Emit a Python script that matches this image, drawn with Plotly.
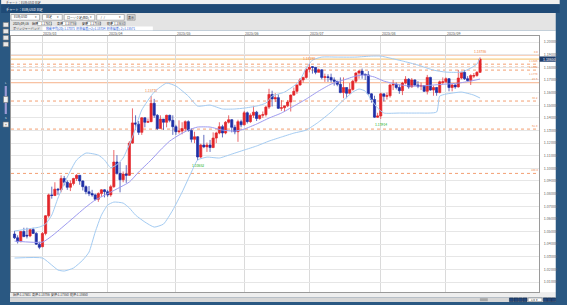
import plotly.graph_objects as go

# ---------------- data ----------------
feb = [18, 19, 20, 21, 24, 25, 26, 27, 28]
mar = [3, 4, 5, 6, 7, 10, 11, 12, 13, 14, 17, 18, 19, 20, 21, 24, 25, 26, 27, 28, 31]
apr = [1, 2, 3, 4, 7, 8, 9, 10, 11, 14, 15, 16, 17, 18, 21, 22, 23, 24, 25, 28, 29, 30]
may = [1, 2, 5, 6, 7, 8, 9, 12, 13, 14, 15, 16, 19, 20, 21, 22, 23, 26, 27, 28, 29, 30]
jun = [2, 3, 4, 5, 6, 9, 10, 11, 12, 13, 16, 17, 18, 19, 20, 23, 24, 25, 26, 27, 30]
jul = [1, 2, 3, 4, 7, 8, 9, 10, 11, 14, 15, 16, 17, 18, 21, 22, 23, 24, 25, 28, 29, 30, 31]
aug = [1, 4, 5, 6, 7, 8, 11, 12, 13, 14, 15, 18, 19, 20, 21, 22, 25, 26, 27, 28, 29]
sep = [1, 2, 3, 4, 5, 8, 9, 10, 11, 12, 15, 16]
dates = [f"2025-{m:02d}-{d:02d}" for m, days in
         ((2, feb), (3, mar), (4, apr), (5, may), (6, jun), (7, jul), (8, aug), (9, sep)) for d in days]

open_ = [
    1.0480, 1.0450, 1.0420, 1.0500, 1.0470, 1.0465, 1.0515, 1.0485, 1.0400,
    1.0380, 1.0485, 1.0625, 1.0790, 1.0785, 1.0835, 1.0830, 1.0920, 1.0890, 1.0850, 1.0880, 1.0920, 1.0945, 1.0900, 1.0855, 1.0815, 1.0800, 1.0790, 1.0755, 1.0800, 1.0830,
    1.0815, 1.0790, 1.0855, 1.1050, 1.0960, 1.0910, 1.0955, 1.0945, 1.1200, 1.1360, 1.1350, 1.1285, 1.1400, 1.1365, 1.1370, 1.1515, 1.1420, 1.1315, 1.1390, 1.1365, 1.1420, 1.1380,
    1.1330, 1.1290, 1.1295, 1.1315, 1.1370, 1.1300, 1.1230, 1.1250, 1.1090, 1.1185, 1.1170, 1.1185, 1.1165, 1.1240, 1.1280, 1.1330, 1.1280, 1.1365, 1.1385, 1.1325, 1.1290, 1.1370,
    1.1345, 1.1440, 1.1370, 1.1420, 1.1445, 1.1395, 1.1420, 1.1425, 1.1485, 1.1585, 1.1550, 1.1560, 1.1475, 1.1480, 1.1495, 1.1525, 1.1580, 1.1610, 1.1660, 1.1700, 1.1720,
    1.1785, 1.1805, 1.1800, 1.1760, 1.1780, 1.1720, 1.1725, 1.1720, 1.1700, 1.1690, 1.1665, 1.1600, 1.1640, 1.1595, 1.1625, 1.1690, 1.1755, 1.1770, 1.1745, 1.1740, 1.1590, 1.1545, 1.1405,
    1.1415, 1.1590, 1.1570, 1.1575, 1.1660, 1.1665, 1.1640, 1.1615, 1.1675, 1.1705, 1.1645, 1.1700, 1.1660, 1.1650, 1.1655, 1.1610, 1.1720, 1.1620, 1.1640, 1.1600, 1.1680,
    1.1685, 1.1710, 1.1640, 1.1660, 1.1645, 1.1715, 1.1760, 1.1710, 1.1695, 1.1730, 1.1735, 1.1760,
]
high = [
    1.0505, 1.0470, 1.0505, 1.0530, 1.0530, 1.0525, 1.0530, 1.0495, 1.0420,
    1.0495, 1.0630, 1.0800, 1.0855, 1.0890, 1.0845, 1.0945, 1.0940, 1.0905, 1.0905, 1.0925, 1.0955, 1.0945, 1.0905, 1.0865, 1.0860, 1.0830, 1.0800, 1.0810, 1.0835, 1.0835,
    1.0830, 1.0870, 1.1145, 1.1105, 1.1050, 1.0975, 1.1025, 1.1215, 1.1475, 1.1420, 1.1375, 1.1405, 1.1405, 1.1395, 1.15731, 1.1550, 1.1430, 1.1420, 1.1390, 1.1425, 1.1425, 1.1420,
    1.1345, 1.1380, 1.1365, 1.1380, 1.1380, 1.1315, 1.1290, 1.1255, 1.1195, 1.1265, 1.1205, 1.1225, 1.1285, 1.1290, 1.1365, 1.1345, 1.1375, 1.1420, 1.1390, 1.1345, 1.1385, 1.1385,
    1.1455, 1.1450, 1.1435, 1.1495, 1.1455, 1.1425, 1.1450, 1.1495, 1.1630, 1.1615, 1.1595, 1.1585, 1.1540, 1.1495, 1.1540, 1.1585, 1.1640, 1.1665, 1.1715, 1.1725, 1.1790,
    1.18298, 1.1810, 1.1800, 1.1790, 1.1785, 1.1750, 1.1745, 1.1750, 1.1720, 1.1690, 1.1720, 1.1720, 1.1640, 1.1675, 1.1700, 1.1760, 1.1780, 1.1790, 1.1750, 1.1770, 1.1595, 1.1575, 1.1440,
    1.1600, 1.1590, 1.1600, 1.1670, 1.1700, 1.1680, 1.1660, 1.1685, 1.1730, 1.1715, 1.1715, 1.1705, 1.1690, 1.1680, 1.1660, 1.1740, 1.1725, 1.1655, 1.1645, 1.1695, 1.1720,
    1.1720, 1.1715, 1.1670, 1.1665, 1.1780, 1.1765, 1.1780, 1.1730, 1.1745, 1.1755, 1.1770, 1.18786,
]
low = [
    1.0440, 1.0405, 1.0415, 1.0455, 1.0445, 1.0455, 1.0480, 1.0395, 1.0360,
    1.0375, 1.0470, 1.0610, 1.0760, 1.0780, 1.0790, 1.0810, 1.0865, 1.0830, 1.0820, 1.0865, 1.0900, 1.0870, 1.0825, 1.0795, 1.0780, 1.0775, 1.0745, 1.0735, 1.0775, 1.0770,
    1.0775, 1.0775, 1.0845, 1.0950, 1.0810, 1.0890, 1.0885, 1.0940, 1.1195, 1.1305, 1.1265, 1.1265, 1.1325, 1.1360, 1.1365, 1.1400, 1.1305, 1.1315, 1.1305, 1.1325, 1.1365, 1.1265,
    1.1265, 1.1275, 1.1270, 1.1290, 1.1290, 1.1205, 1.1200, 1.10652, 1.1080, 1.1160, 1.1130, 1.1130, 1.1160, 1.1200, 1.1270, 1.1245, 1.1270, 1.1355, 1.1285, 1.1270, 1.1210, 1.1325,
    1.1340, 1.1355, 1.1360, 1.1400, 1.1375, 1.1385, 1.1400, 1.1410, 1.1470, 1.1490, 1.1525, 1.1470, 1.1455, 1.1450, 1.1485, 1.1450, 1.1575, 1.1590, 1.1655, 1.1680, 1.1710,
    1.1760, 1.1750, 1.1745, 1.1760, 1.1705, 1.1685, 1.1685, 1.1680, 1.1655, 1.1650, 1.1595, 1.1555, 1.1555, 1.1590, 1.1615, 1.1675, 1.1710, 1.1710, 1.1700, 1.1585, 1.1520, 1.1400, 1.1400,
    1.13914, 1.1530, 1.1545, 1.1560, 1.1620, 1.1625, 1.1590, 1.1580, 1.1665, 1.1630, 1.1640, 1.1650, 1.1635, 1.1620, 1.1605, 1.1585, 1.1615, 1.1575, 1.1575, 1.1595, 1.1665,
    1.1675, 1.1610, 1.1610, 1.1630, 1.1640, 1.1705, 1.1700, 1.1690, 1.1660, 1.1715, 1.1725, 1.1755,
]
close = [
    1.0450, 1.0420, 1.0500, 1.0460, 1.0465, 1.0515, 1.0485, 1.0400, 1.0375,
    1.0485, 1.0625, 1.0790, 1.0785, 1.0835, 1.0830, 1.0920, 1.0890, 1.0850, 1.0880, 1.0920, 1.0945, 1.0900, 1.0855, 1.0815, 1.0800, 1.0790, 1.0755, 1.0800, 1.0830, 1.0815,
    1.0790, 1.0855, 1.1050, 1.0960, 1.0910, 1.0955, 1.0945, 1.1200, 1.1360, 1.1350, 1.1285, 1.1400, 1.1365, 1.1370, 1.1515, 1.1420, 1.1315, 1.1390, 1.1365, 1.1420, 1.1380, 1.1330,
    1.1290, 1.1295, 1.1315, 1.1370, 1.1300, 1.1230, 1.1250, 1.1090, 1.1185, 1.1170, 1.1185, 1.1165, 1.1240, 1.1280, 1.1330, 1.1280, 1.1365, 1.1385, 1.1325, 1.1290, 1.1370, 1.1345,
    1.1440, 1.1370, 1.1420, 1.1445, 1.1395, 1.1420, 1.1425, 1.1485, 1.1585, 1.1550, 1.1560, 1.1475, 1.1480, 1.1495, 1.1525, 1.1580, 1.1610, 1.1660, 1.1700, 1.1720, 1.1785,
    1.1800, 1.1800, 1.1760, 1.1780, 1.1720, 1.1725, 1.1720, 1.1700, 1.1690, 1.1665, 1.1600, 1.1640, 1.1595, 1.1625, 1.1690, 1.1755, 1.1770, 1.1740, 1.1740, 1.1590, 1.1545, 1.1405, 1.1415,
    1.1590, 1.1570, 1.1575, 1.1660, 1.1665, 1.1640, 1.1615, 1.1675, 1.1705, 1.1645, 1.1700, 1.1660, 1.1650, 1.1655, 1.1610, 1.1720, 1.1620, 1.1640, 1.1600, 1.1685, 1.1685,
    1.1710, 1.1640, 1.1660, 1.1645, 1.1715, 1.1760, 1.1710, 1.1695, 1.1735, 1.1735, 1.1760, 1.1865,
]

# Bollinger band (20, +-2sigma) values
bb_up_dates = ["2025-02-18", "2025-02-24", "2025-02-28", "2025-03-04", "2025-03-06", "2025-03-10", "2025-03-13",
               "2025-03-18", "2025-03-21", "2025-03-27", "2025-03-31", "2025-04-02", "2025-04-04", "2025-04-08",
               "2025-04-11", "2025-04-16", "2025-04-22", "2025-04-28", "2025-05-01", "2025-05-07", "2025-05-12",
               "2025-05-16", "2025-05-22", "2025-05-28", "2025-06-02", "2025-06-06", "2025-06-11", "2025-06-13",
               "2025-06-19", "2025-06-24", "2025-06-26", "2025-06-30", "2025-07-02", "2025-07-07", "2025-07-14",
               "2025-07-22", "2025-07-29", "2025-08-01", "2025-08-06", "2025-08-12", "2025-08-19", "2025-08-26",
               "2025-09-01", "2025-09-08", "2025-09-11", "2025-09-15", "2025-09-16"]
bb_up = [1.0504, 1.0519, 1.0535, 1.0559, 1.0630, 1.0765, 1.0931,
         1.1066, 1.1121, 1.1105, 1.1066, 1.1005, 1.1030, 1.1082,
         1.1248, 1.1462, 1.1604, 1.1675, 1.1652, 1.1572, 1.1493,
         1.1501, 1.1470, 1.1470, 1.1477, 1.1493, 1.1517, 1.1572,
         1.1604, 1.1652, 1.1699, 1.1794, 1.1857, 1.1881, 1.1881,
         1.1881, 1.1889, 1.1889, 1.1873, 1.1850, 1.1818, 1.1778,
         1.1762, 1.1762, 1.1794, 1.1826, 1.1873]
bb_mid_dates = ["2025-02-18", "2025-03-03", "2025-03-06", "2025-03-13", "2025-03-21", "2025-03-26", "2025-04-02",
                "2025-04-10", "2025-04-15", "2025-04-21", "2025-04-24", "2025-04-29", "2025-05-02", "2025-05-07",
                "2025-05-12", "2025-05-16", "2025-05-22", "2025-05-28", "2025-06-02", "2025-06-06", "2025-06-12",
                "2025-06-18", "2025-06-24", "2025-06-30", "2025-07-04", "2025-07-10", "2025-07-16", "2025-07-22",
                "2025-07-25", "2025-07-30", "2025-08-04", "2025-08-08", "2025-08-14", "2025-08-20", "2025-08-26",
                "2025-09-01", "2025-09-05", "2025-09-11", "2025-09-16"]
bb_mid = [1.0424, 1.0416, 1.0464, 1.0567, 1.0694, 1.0749, 1.0812,
          1.0892, 1.0971, 1.1066, 1.1145, 1.1216, 1.1264, 1.1303,
          1.1327, 1.1327, 1.1303, 1.1295, 1.1311, 1.1351, 1.1398,
          1.1438, 1.1493, 1.1549, 1.1612, 1.1667, 1.1699, 1.1731,
          1.1739, 1.1723, 1.1691, 1.1667, 1.1652, 1.1652, 1.1660,
          1.1667, 1.1675, 1.1691, 1.1707]
bb_lo_dates = ["2025-02-18", "2025-03-03", "2025-03-06", "2025-03-10", "2025-03-12", "2025-03-17", "2025-03-20",
               "2025-03-24", "2025-03-26", "2025-03-28", "2025-04-01", "2025-04-03", "2025-04-08", "2025-04-10",
               "2025-04-14", "2025-04-17", "2025-04-22", "2025-04-25", "2025-04-30", "2025-05-05", "2025-05-08",
               "2025-05-12", "2025-05-15", "2025-05-21", "2025-05-27", "2025-06-02", "2025-06-06", "2025-06-12",
               "2025-06-18", "2025-06-24", "2025-06-30", "2025-07-04", "2025-07-10", "2025-07-16", "2025-07-21",
               "2025-07-23", "2025-07-25", "2025-07-29", "2025-07-31", "2025-08-04", "2025-08-11", "2025-08-19",
               "2025-08-27", "2025-08-28", "2025-09-01", "2025-09-08", "2025-09-12", "2025-09-16"]
bb_lo = [1.0290, 1.0290, 1.0234, 1.0195, 1.0187, 1.0211, 1.0274,
         1.0337, 1.0496, 1.0630, 1.0709, 1.0733, 1.0725, 1.0686,
         1.0630, 1.0575, 1.0535, 1.0559, 1.0670, 1.0812, 1.0971,
         1.1066, 1.1089, 1.1082, 1.1113, 1.1145, 1.1177, 1.1216,
         1.1248, 1.1279, 1.1303, 1.1367, 1.1446, 1.1541, 1.1604,
         1.1628, 1.1612, 1.1541, 1.1477, 1.1438, 1.1438, 1.1438,
         1.1446, 1.1572, 1.1588, 1.1604, 1.1580, 1.1557]

month_starts = ["2025-03-03", "2025-04-01", "2025-05-01", "2025-06-02", "2025-07-01", "2025-08-01", "2025-09-01"]
month_labels = ["2025/03", "2025/04", "2025/05", "2025/06", "2025/07", "2025/08", "2025/09"]

y_ticks = [1.01, 1.02, 1.03, 1.04, 1.05, 1.06, 1.07, 1.08, 1.09, 1.10,
           1.11, 1.12, 1.13, 1.14, 1.15, 1.16, 1.17, 1.18, 1.19, 1.20]
y_tick_text = ["1.01000", "1.02000", "1.03000", "1.04000", "1.05000", "1.06000", "1.07000", "1.08000", "1.09000", "1.10000",
               "1.11000", "1.12000", "1.13000", "1.14000", "1.15000", "1.16000", "1.17000", "1.18000", "1.19000", "1.20000"]

# horizontal drawing lines (price, label, dash, label placement)
level_prices = [1.1897, 1.1825, 1.1802, 1.1778, 1.1678, 1.1533, 1.1311, 1.0960]
level_labels = ["0.0", "1.1825", "1.1802", "1.1778", "23.6", "38.2", "61.8", "100.0"]
level_dash = ["solid", "dot", "dot", "dot", "solid", "dot", "dot", "dot"]
level_anchor = ["bottom", "bottom", "middle", "top", "bottom", "bottom", "bottom", "bottom"]

high_marks = ["2025-04-21", "2025-07-01", "2025-09-16"]
low_marks = ["2025-05-12", "2025-08-01"]
last_price = 1.18650

# ---------------- layout helpers ----------------
W, H = 567, 305
ML, MR, MT, MB = 10, 21, 36, 13
PW, PH = W - ML - MR, H - MT - MB
FONT = "Noto Sans CJK JP"
FRAME = "#2a5882"


def px(x):
    return (x - ML) / PW


def py(y):
    return 1 - (y - MT) / PH


shapes = []
annots = []


def rect(x0, y0, x1, y1, fill, line=None, layer="below"):
    shapes.append(dict(type="rect", xref="paper", yref="paper", x0=px(x0), x1=px(x1), y0=py(y1), y1=py(y0),
                       fillcolor=fill, line=dict(width=0.6 if line else 0, color=line or fill), layer=layer))


def text(x, y, s, size=3.3, color="#333", anchor="left"):
    annots.append(dict(xref="paper", yref="paper", x=px(x), y=py(y), text=s, showarrow=False,
                       xanchor=anchor, yanchor="middle", font=dict(size=size, color=color, family=FONT)))


# window title strips
rect(0, 0, 567, 4.3, "#f0f0f0")
text(3, 2.2, "チャート：EUR/USD 日足", 3.0, "#333")
rect(0, 4.3, 567, 13, "#1f4a76")
text(3, 9.2, "チャート：EUR/USD 日足", 3.2, "#ffffff")
# toolbar + info
rect(9, 13, 563, 30.5, "#e4e4e4")
for (x0, x1, s) in [(10, 39, "EUR/USD"), (42, 62, "日足"), (64, 95, "ローソク足(BID)"), (97, 125, " /   /")]:
    rect(x0, 14.5, x1, 20.2, "#ffffff", "#8a8a8a")
    text(x0 + 1.2, 17.4, s, 3.0, "#222")
    text(x1 - 0.8, 17.4, "▾", 3.0, "#444", "right")
rect(128, 14.5, 136, 20.2, "#d2d2d2", "#8a8a8a")
text(132, 17.4, "表示", 3.0, "#222", "center")
text(10, 23.6, "2025/09/16", 3.0, "#222")
for (lx, bx, lab, val) in [(29, 37, "始値", "1.17601"), (55, 62, "高値", "1.18786"),
                           (80, 87, "安値", "1.17550"), (105, 112, "終値", "1.18650")]:
    text(lx, 23.6, lab, 3.0, "#222")
    rect(bx, 21.6, bx + 14, 25.6, "#ffffff", "#9a9a9a")
    text(bx + 1, 23.6, val, 3.0, "#222")
text(10, 28.4, "ボリンジャーバンド", 3.0, "#222")
rect(42, 26.4, 154, 30.3, "#ffffff")
text(43, 28.4, "移動平均(20):1.17071  標準偏差(+2):1.18734  標準偏差(-2):1.15571", 3.0, "#1b55d8")
# date row + right axis background
rect(9, 30.5, 563, 36, "#ffffff")
rect(546, 36, 563, 292, "#ffffff")
# sidebar icons and slider
for y0 in (22.5, 29, 35.5, 42):
    rect(2, y0, 7.5, y0 + 4.5, "#e8e8e8", "#7a7a7a")
rect(3.6, 86, 5.8, 114, "#9d9bd6")
rect(2.4, 96.5, 7.0, 102.5, "#f2f2f2", "#777")
text(4.7, 83, "L", 2.6, "#dfe6f0", "center")
text(4.7, 117.5, "S", 2.6, "#dfe6f0", "center")
rect(2, 122, 7.5, 127, "#f0f0f0", "#777")
text(4.75, 124.5, "+", 3.2, "#222", "center")
# bottom status + scroll row
rect(9, 292, 563, 297.3, "#eeeeee")
text(10, 294.7, "始値:1.17601  高値:1.18786  安値:1.17550  終値:1.18650", 3.0, "#333")
rect(9, 297.3, 563, 302, "#d6d6d6")
rect(486, 298.2, 494, 301.2, "#a6a6a6")
for x0 in (516, 520.6, 525.2, 529.8):
    rect(x0, 298, x0 + 4, 301.6, "#23467a", "#10284a")
rect(535, 298, 549, 301.6, "#ffffff", "#888")
text(536, 299.8, "1/8  ▾", 2.6, "#222")
for x0 in (550.4, 554.6, 558.8):
    rect(x0, 298, x0 + 4, 301.6, "#23467a", "#10284a")

# month labels on the date row
for d, lab in zip(month_starts, month_labels):
    annots.append(dict(xref="x", yref="paper", x=d, y=py(33.4), text=lab, showarrow=False,
                       xanchor="left", yanchor="middle", xshift=-1,
                       font=dict(size=3.6, color="#555", family=FONT)))

# horizontal drawing lines with labels
for p, lab, dsh, anc in zip(level_prices, level_labels, level_dash, level_anchor):
    shapes.append(dict(type="line", xref="paper", yref="y", x0=0, x1=1, y0=p, y1=p,
                       line=dict(color="#f4a77c" if dsh == "solid" else "#f29563", width=0.9, dash=dsh),
                       layer="below"))
    shift = {"bottom": 0.3, "middle": 0, "top": -0.6}[anc]
    annots.append(dict(xref="paper", yref="y", x=1, y=p, text=lab, showarrow=False, xanchor="right",
                       yanchor=anc, xshift=-0.5, yshift=shift, borderpad=0,
                       font=dict(size=2.8, color="#ef8a50", family=FONT)))

# current price line + axis tag
shapes.append(dict(type="line", xref="paper", yref="y", x0=0, x1=1, y0=last_price, y1=last_price,
                   line=dict(color="#f7cc84", width=1.3), layer="below"))
shapes.append(dict(type="rect", xref="paper", yref="y", x0=px(546.5), x1=px(563), y0=last_price - 0.0021,
                   y1=last_price + 0.0021, fillcolor="#1f3d6b", line=dict(width=0), layer="above"))
annots.append(dict(xref="paper", yref="y", x=px(548.5), y=last_price, text=f"{last_price:.5f}", showarrow=False,
                   xanchor="left", yanchor="middle", font=dict(size=3.5, color="#ffffff", family=FONT)))

# high / low markers
for d in high_marks:
    i = dates.index(d)
    annots.append(dict(xref="x", yref="y", x=d, y=high[i], text=f"{high[i]:.5f}", showarrow=False,
                       yanchor="bottom", yshift=1, font=dict(size=3.4, color="#ef8040", family=FONT)))
for d in low_marks:
    i = dates.index(d)
    annots.append(dict(xref="x", yref="y", x=d, y=low[i], text=f"{low[i]:.5f}", showarrow=False,
                       yanchor="top", yshift=-1, font=dict(size=3.4, color="#22b02a", family=FONT)))

# ---------------- figure ----------------
fig = go.Figure()
fig.add_trace(go.Candlestick(
    x=dates, open=open_, high=high, low=low, close=close,
    increasing=dict(line=dict(color="#e3262b", width=0.7), fillcolor="#e3262b"),
    decreasing=dict(line=dict(color="#1f2fa6", width=0.7), fillcolor="#1f2fa6"),
    whiskerwidth=0, hoverinfo="skip", showlegend=False))
fig.add_trace(go.Scatter(x=bb_up_dates, y=bb_up, mode="lines", hoverinfo="skip",
                         line=dict(color="#a3cbf2", width=1, shape="spline", smoothing=0.5)))
fig.add_trace(go.Scatter(x=bb_lo_dates, y=bb_lo, mode="lines", hoverinfo="skip",
                         line=dict(color="#a3cbf2", width=1, shape="spline", smoothing=0.5)))
fig.add_trace(go.Scatter(x=bb_mid_dates, y=bb_mid, mode="lines", hoverinfo="skip",
                         line=dict(color="#9d9af0", width=1, shape="spline", smoothing=0.5)))

fig.update_layout(
    width=W, height=H, margin=dict(l=ML, r=MR, t=MT, b=MB, pad=0),
    paper_bgcolor=FRAME, plot_bgcolor="#ffffff", showlegend=False, hovermode=False,
    boxgap=0.3, boxgroupgap=0,
    font=dict(family=FONT, size=4, color="#555"),
    shapes=shapes, annotations=annots,
    xaxis=dict(type="category", categoryorder="array", categoryarray=dates,
               range=[-1.14, 169.0], tickmode="array", tickvals=month_starts, showticklabels=False,
               showgrid=True, gridcolor="#dadada", gridwidth=1, ticks="",
               showline=True, mirror=True, linecolor="#9a9a9a", linewidth=1,
               rangeslider=dict(visible=False), fixedrange=True),
    yaxis=dict(side="right", range=[1.0021, 1.2048], tickmode="array", tickvals=y_ticks, ticktext=y_tick_text,
               tickfont=dict(size=3.7, color="#666", family=FONT), ticks="", ticklabelstandoff=3,
               showgrid=True, gridcolor="#e6e6e6", gridwidth=1, zeroline=False,
               showline=True, mirror=True, linecolor="#9a9a9a", linewidth=1, fixedrange=True),
)

fig.write_html("out.html")
